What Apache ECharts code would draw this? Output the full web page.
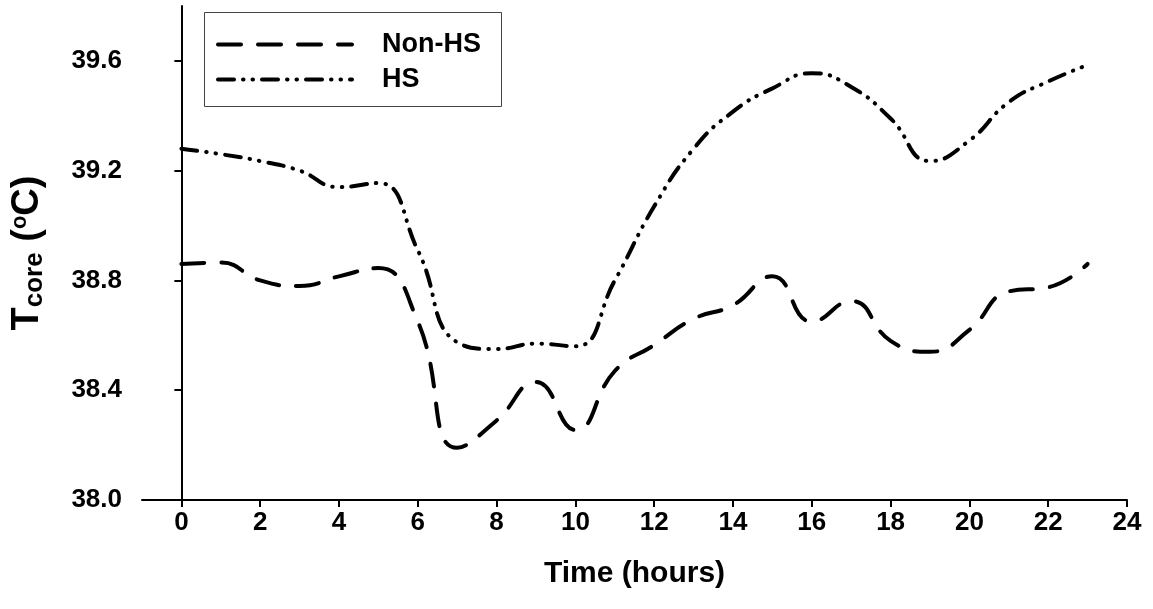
<!DOCTYPE html>
<html>
<head>
<meta charset="utf-8">
<title>Core temperature over 24 hours</title>
<script src="https://cdn.jsdelivr.net/npm/echarts@6/dist/echarts.min.js"></script>
<style>
  html, body { margin: 0; padding: 0; background: #fff; }
  #chart { width: 1153px; height: 609px; }
</style>
</head>
<body>
<div id="chart"></div>
<script>
// Hourly core temperature (°C), hours 0–23
const hours = [0, 1, 2, 3, 4, 5, 6, 7, 8, 9, 10, 11, 12, 13, 14, 15, 16, 17, 18, 19, 20, 21, 22, 23];
const nonHS = [38.86, 38.865, 38.80, 38.78, 38.815, 38.845, 38.65, 38.19, 38.29, 38.43, 38.255, 38.47,
               38.565, 38.66, 38.71, 38.815, 38.65, 38.725, 38.58, 38.54, 38.62, 38.76, 38.775, 38.86];
const hs = [39.28, 39.26, 39.235, 39.20, 39.14, 39.155, 38.91, 38.575, 38.55, 38.57, 38.56, 38.80,
            39.07, 39.28, 39.415, 39.50, 39.555, 39.505, 39.39, 39.235, 39.31, 39.45, 39.525, 39.585];
const xTicks = [0, 2, 4, 6, 8, 10, 12, 14, 16, 18, 20, 22, 24];
const yTicks = [38.0, 38.4, 38.8, 39.2, 39.6];
const seriesNames = ['Non-HS', 'HS'];

const FONT = '"Liberation Sans", Arial, Helvetica, sans-serif';

// Line patterns: long dashes, and dash-dot-dot
const dashLong = [23, 17];
const dashDotDot = [16, 9, 0.5, 9, 0.5, 9];

const chart = echarts.init(document.getElementById('chart'), null, { renderer: 'canvas' });

const pairs = (vals) => hours.map((h, i) => [h, vals[i]]);

chart.setOption({
  backgroundColor: '#ffffff',
  animation: false,
  grid: { left: 142, right: 26, top: 6, bottom: 109, containLabel: false },
  graphic: [{
    type: 'rect',
    shape: { x: 204.5, y: 12.5, width: 297, height: 94 },
    style: { fill: 'none', stroke: '#444', lineWidth: 1 },
    z: 1
  }],
  legend: {
    data: [
      { name: seriesNames[0], lineStyle: { width: 4, type: dashLong, cap: 'round', color: '#000' } },
      { name: seriesNames[1], lineStyle: { width: 4, type: dashDotDot, cap: 'round', color: '#000' } }
    ],
    orient: 'vertical',
    left: 216,
    top: 31,
    padding: 0,
    itemWidth: 134,
    itemHeight: 28,
    itemGap: 8,
    itemStyle: { opacity: 0, color: 'rgba(0,0,0,0)', borderWidth: 0 },
    textStyle: {
      fontFamily: FONT, fontWeight: 'bold', fontSize: 27, color: '#000',
      padding: [0, 0, 0, 25]
    }
  },
  xAxis: {
    type: 'value',
    min: -1,
    max: 24,
    name: 'Time (hours)',
    nameLocation: 'middle',
    nameGap: 59,
    nameTextStyle: { fontFamily: FONT, fontWeight: 'bold', fontSize: 30, color: '#000' },
    axisLine: { show: true, lineStyle: { color: '#000', width: 2 } },
    axisTick: { show: true, length: 7, lineStyle: { color: '#000', width: 2 }, customValues: xTicks },
    axisLabel: {
      fontFamily: FONT, fontWeight: 'bold', fontSize: 26, color: '#000', margin: 10,
      customValues: xTicks
    },
    splitLine: { show: false }
  },
  yAxis: {
    type: 'value',
    min: 38.0,
    max: 39.8,
    name: '{T|T}{sub|core}{big| (}{sup|o}{big|C)}',
    nameLocation: 'middle',
    nameGap: 95,
    nameTextStyle: {
      color: '#000',
      rich: {
        T: { fontFamily: FONT, fontWeight: 'bold', fontSize: 38, lineHeight: 38, verticalAlign: 'top', color: '#000' },
        sub: { fontFamily: FONT, fontWeight: 'bold', fontSize: 26, lineHeight: 26, padding: [13, 0, 0, 0], verticalAlign: 'top', color: '#000' },
        big: { fontFamily: FONT, fontWeight: 'bold', fontSize: 38, lineHeight: 38, verticalAlign: 'top', color: '#000' },
        sup: { fontFamily: FONT, fontWeight: 'bold', fontSize: 22, lineHeight: 22, verticalAlign: 'top', color: '#000' }
      }
    },
    axisLine: { show: true, lineStyle: { color: '#000', width: 2 } },
    axisTick: { show: true, length: 7, lineStyle: { color: '#000', width: 2 }, customValues: yTicks },
    axisLabel: {
      fontFamily: FONT, fontWeight: 'bold', fontSize: 26, color: '#000', margin: 20,
      customValues: yTicks,
      formatter: (v) => v.toFixed(1)
    },
    splitLine: { show: false }
  },
  series: [
    {
      name: seriesNames[0],
      type: 'line',
      data: pairs(nonHS),
      smooth: 0.5,
      symbol: 'none',
      lineStyle: { color: '#000', width: 4, type: dashLong, cap: 'round' },
      itemStyle: { color: '#000' }
    },
    {
      name: seriesNames[1],
      type: 'line',
      data: pairs(hs),
      smooth: 0.5,
      symbol: 'none',
      lineStyle: { color: '#000', width: 4, type: dashDotDot, cap: 'round' },
      itemStyle: { color: '#000' }
    }
  ]
});
</script>
</body>
</html>
